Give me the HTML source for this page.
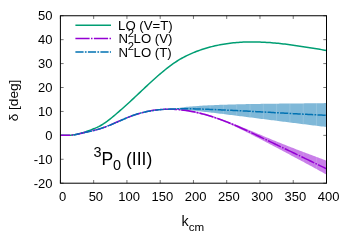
<!DOCTYPE html>
<html><head><meta charset="utf-8"><style>
html,body{margin:0;padding:0;background:#fff;}
svg{display:block;will-change:transform;}
text{font-family:"Liberation Sans",sans-serif;font-size:13px;fill:#000;}
</style></head><body>
<svg width="350" height="245" viewBox="0 0 350 245">
<rect width="350" height="245" fill="#fff"/>
<path d="M60.40,183.2 v-3.2 M60.40,15.75 v3.2 M93.66,183.2 v-3.2 M93.66,15.75 v3.2 M126.93,183.2 v-3.2 M126.93,15.75 v3.2 M160.19,183.2 v-3.2 M160.19,15.75 v3.2 M193.45,183.2 v-3.2 M193.45,15.75 v3.2 M226.71,183.2 v-3.2 M226.71,15.75 v3.2 M259.97,183.2 v-3.2 M259.97,15.75 v3.2 M293.24,183.2 v-3.2 M293.24,15.75 v3.2 M326.50,183.2 v-3.2 M326.50,15.75 v3.2 M60.4,183.20 h3.2 M326.5,183.20 h-3.2 M60.4,159.28 h3.2 M60.4,135.36 h3.2 M326.5,135.36 h-3.2 M60.4,111.44 h3.2 M60.4,87.51 h3.2 M326.5,87.51 h-3.2 M60.4,63.59 h3.2 M326.5,63.59 h-3.2 M60.4,39.67 h3.2 M326.5,39.67 h-3.2 M60.4,15.75 h3.2 M326.5,15.75 h-3.2" fill="none" stroke="#000" stroke-width="0.55"/>
<defs><clipPath id="cb"><path d="M60.40,135.19 L62.06,135.15 L63.73,135.17 L65.39,135.20 L67.05,135.23 L68.72,135.24 L70.38,135.20 L72.04,135.09 L73.70,134.90 L75.37,134.62 L77.03,134.26 L78.69,133.87 L80.36,133.48 L82.02,133.10 L83.68,132.74 L85.35,132.39 L87.01,132.04 L88.67,131.69 L90.34,131.32 L92.00,130.94 L93.66,130.53 L95.33,130.09 L96.99,129.62 L98.65,129.13 L100.31,128.61 L101.98,128.06 L103.64,127.49 L105.30,126.90 L106.97,126.29 L108.63,125.66 L110.29,125.00 L111.96,124.33 L113.62,123.63 L115.28,122.92 L116.95,122.20 L118.61,121.46 L120.27,120.72 L121.94,119.98 L123.60,119.24 L125.26,118.51 L126.93,117.80 L128.59,117.11 L130.25,116.43 L131.91,115.79 L133.58,115.18 L135.24,114.61 L136.90,114.07 L138.57,113.57 L140.23,113.11 L141.89,112.67 L143.56,112.27 L145.22,111.90 L146.88,111.56 L148.55,111.24 L150.21,110.96 L151.87,110.69 L153.53,110.45 L155.20,110.23 L156.86,110.04 L158.52,109.86 L160.19,109.70 L161.85,109.56 L163.51,109.43 L165.18,109.32 L166.84,109.22 L168.50,109.13 L170.17,109.05 L171.83,108.99 L173.49,108.93 L175.16,108.49 L176.82,108.18 L178.48,107.91 L180.15,107.66 L181.81,107.44 L183.47,107.23 L185.13,107.04 L186.80,106.87 L188.46,106.70 L190.12,106.55 L191.79,106.41 L193.45,106.27 L195.11,106.14 L196.78,106.03 L198.44,105.91 L200.10,105.81 L201.77,105.71 L203.43,105.61 L205.09,105.52 L206.76,105.44 L208.42,105.35 L210.08,105.28 L211.74,105.20 L213.41,105.13 L215.07,105.06 L216.73,104.99 L218.40,104.92 L220.06,104.86 L221.72,104.80 L223.39,104.74 L225.05,104.68 L226.71,104.63 L228.38,104.58 L230.04,104.53 L231.70,104.48 L233.37,104.43 L235.03,104.39 L236.69,104.34 L238.35,104.30 L240.02,104.26 L241.68,104.22 L243.34,104.19 L245.01,104.15 L246.67,104.12 L248.33,104.08 L250.00,104.05 L251.66,104.02 L253.32,103.99 L254.99,103.96 L256.65,103.93 L258.31,103.91 L259.97,103.88 L261.64,103.85 L263.30,103.83 L264.96,103.81 L266.63,103.78 L268.29,103.76 L269.95,103.74 L271.62,103.72 L273.28,103.70 L274.94,103.68 L276.61,103.66 L278.27,103.64 L279.93,103.62 L281.60,103.60 L283.26,103.59 L284.92,103.57 L286.59,103.55 L288.25,103.53 L289.91,103.52 L291.57,103.50 L293.24,103.48 L294.90,103.46 L296.56,103.45 L298.23,103.43 L299.89,103.41 L301.55,103.39 L303.22,103.38 L304.88,103.36 L306.54,103.34 L308.21,103.32 L309.87,103.30 L311.53,103.28 L313.20,103.26 L314.86,103.24 L316.52,103.22 L318.18,103.20 L319.85,103.18 L321.51,103.15 L323.17,103.13 L324.84,103.11 L326.50,103.08 L326.50,126.97 L324.84,126.78 L323.17,126.58 L321.51,126.38 L319.85,126.19 L318.18,125.99 L316.52,125.79 L314.86,125.59 L313.20,125.39 L311.53,125.19 L309.87,124.98 L308.21,124.78 L306.54,124.58 L304.88,124.37 L303.22,124.16 L301.55,123.96 L299.89,123.75 L298.23,123.54 L296.56,123.33 L294.90,123.12 L293.24,122.92 L291.57,122.71 L289.91,122.49 L288.25,122.28 L286.59,122.07 L284.92,121.86 L283.26,121.65 L281.60,121.44 L279.93,121.22 L278.27,121.01 L276.61,120.80 L274.94,120.59 L273.28,120.37 L271.62,120.16 L269.95,119.95 L268.29,119.73 L266.63,119.52 L264.96,119.31 L263.30,119.09 L261.64,118.88 L259.97,118.67 L258.31,118.45 L256.65,118.24 L254.99,118.03 L253.32,117.82 L251.66,117.60 L250.00,117.39 L248.33,117.18 L246.67,116.97 L245.01,116.76 L243.34,116.55 L241.68,116.34 L240.02,116.13 L238.35,115.92 L236.69,115.71 L235.03,115.51 L233.37,115.30 L231.70,115.09 L230.04,114.89 L228.38,114.68 L226.71,114.48 L225.05,114.27 L223.39,114.07 L221.72,113.87 L220.06,113.67 L218.40,113.47 L216.73,113.27 L215.07,113.07 L213.41,112.87 L211.74,112.68 L210.08,112.48 L208.42,112.29 L206.76,112.09 L205.09,111.90 L203.43,111.71 L201.77,111.52 L200.10,111.34 L198.44,111.15 L196.78,110.97 L195.11,110.80 L193.45,110.63 L191.79,110.46 L190.12,110.30 L188.46,110.14 L186.80,109.98 L185.13,109.83 L183.47,109.69 L181.81,109.55 L180.15,109.42 L178.48,109.30 L176.82,109.17 L175.16,109.06 L173.49,108.93 L171.83,108.99 L170.17,109.05 L168.50,109.13 L166.84,109.22 L165.18,109.32 L163.51,109.43 L161.85,109.56 L160.19,109.70 L158.52,109.86 L156.86,110.04 L155.20,110.23 L153.53,110.45 L151.87,110.69 L150.21,110.96 L148.55,111.24 L146.88,111.56 L145.22,111.90 L143.56,112.27 L141.89,112.67 L140.23,113.11 L138.57,113.57 L136.90,114.07 L135.24,114.61 L133.58,115.18 L131.91,115.79 L130.25,116.43 L128.59,117.11 L126.93,117.80 L125.26,118.51 L123.60,119.24 L121.94,119.98 L120.27,120.72 L118.61,121.46 L116.95,122.20 L115.28,122.92 L113.62,123.63 L111.96,124.33 L110.29,125.00 L108.63,125.66 L106.97,126.29 L105.30,126.90 L103.64,127.49 L101.98,128.06 L100.31,128.61 L98.65,129.13 L96.99,129.62 L95.33,130.09 L93.66,130.53 L92.00,130.94 L90.34,131.32 L88.67,131.69 L87.01,132.04 L85.35,132.39 L83.68,132.74 L82.02,133.10 L80.36,133.48 L78.69,133.87 L77.03,134.26 L75.37,134.62 L73.70,134.90 L72.04,135.09 L70.38,135.20 L68.72,135.24 L67.05,135.23 L65.39,135.20 L63.73,135.17 L62.06,135.15 L60.40,135.19Z"/></clipPath><clipPath id="cp"><path d="M60.40,135.14 L62.06,135.21 L63.73,135.25 L65.39,135.27 L67.05,135.26 L68.72,135.22 L70.38,135.13 L72.04,135.00 L73.70,134.82 L75.37,134.59 L77.03,134.30 L78.69,133.96 L80.36,133.57 L82.02,133.15 L83.68,132.74 L85.35,132.33 L87.01,131.95 L88.67,131.58 L90.34,131.21 L92.00,130.84 L93.66,130.46 L95.33,130.06 L96.99,129.64 L98.65,129.18 L100.31,128.69 L101.98,128.15 L103.64,127.57 L105.30,126.96 L106.97,126.32 L108.63,125.64 L110.29,124.95 L111.96,124.24 L113.62,123.52 L115.28,122.78 L116.95,122.04 L118.61,121.31 L120.27,120.57 L121.94,119.85 L123.60,119.14 L125.26,118.44 L126.93,117.77 L128.59,117.12 L130.25,116.49 L131.91,115.89 L133.58,115.31 L135.24,114.75 L136.90,114.22 L138.57,113.71 L140.23,113.22 L141.89,112.77 L143.56,112.34 L145.22,111.93 L146.88,111.56 L148.55,111.21 L150.21,110.89 L151.87,110.60 L153.53,110.34 L155.20,110.10 L156.86,109.90 L158.52,109.72 L160.19,109.57 L161.85,109.45 L163.51,109.35 L165.18,109.28 L166.84,109.24 L168.50,109.22 L170.17,109.22 L171.83,109.26 L173.49,109.21 L175.16,109.15 L176.82,109.13 L178.48,109.12 L180.15,109.14 L181.81,109.18 L183.47,109.35 L185.13,109.57 L186.80,109.81 L188.46,110.07 L190.12,110.35 L191.79,110.65 L193.45,110.97 L195.11,111.31 L196.78,111.67 L198.44,112.05 L200.10,112.45 L201.77,112.87 L203.43,113.31 L205.09,113.76 L206.76,114.23 L208.42,114.72 L210.08,115.22 L211.74,115.74 L213.41,116.28 L215.07,116.83 L216.73,117.40 L218.40,117.98 L220.06,118.57 L221.72,119.18 L223.39,119.81 L225.05,120.44 L226.71,121.09 L228.38,121.76 L230.04,122.40 L231.70,123.03 L233.37,123.66 L235.03,124.31 L236.69,124.96 L238.35,125.62 L240.02,126.29 L241.68,126.97 L243.34,127.64 L245.01,128.33 L246.67,129.02 L248.33,129.71 L250.00,130.40 L251.66,131.10 L253.32,131.80 L254.99,132.50 L256.65,133.20 L258.31,133.90 L259.97,134.60 L261.64,135.30 L263.30,136.00 L264.96,136.70 L266.63,137.39 L268.29,138.08 L269.95,138.77 L271.62,139.46 L273.28,140.14 L274.94,140.82 L276.61,141.49 L278.27,142.17 L279.93,142.84 L281.60,143.50 L283.26,144.17 L284.92,144.83 L286.59,145.49 L288.25,146.15 L289.91,146.80 L291.57,147.45 L293.24,148.10 L294.90,148.75 L296.56,149.40 L298.23,150.04 L299.89,150.68 L301.55,151.32 L303.22,151.96 L304.88,152.59 L306.54,153.23 L308.21,153.86 L309.87,154.49 L311.53,155.11 L313.20,155.74 L314.86,156.37 L316.52,156.99 L318.18,157.61 L319.85,158.23 L321.51,158.85 L323.17,159.47 L324.84,160.08 L326.50,160.70 L326.50,174.57 L324.84,173.65 L323.17,172.73 L321.51,171.81 L319.85,170.90 L318.18,169.98 L316.52,169.07 L314.86,168.16 L313.20,167.26 L311.53,166.35 L309.87,165.45 L308.21,164.55 L306.54,163.65 L304.88,162.75 L303.22,161.86 L301.55,160.96 L299.89,160.07 L298.23,159.18 L296.56,158.29 L294.90,157.40 L293.24,156.52 L291.57,155.63 L289.91,154.75 L288.25,153.87 L286.59,152.98 L284.92,152.10 L283.26,151.22 L281.60,150.34 L279.93,149.46 L278.27,148.59 L276.61,147.71 L274.94,146.83 L273.28,145.96 L271.62,145.08 L269.95,144.21 L268.29,143.33 L266.63,142.46 L264.96,141.58 L263.30,140.71 L261.64,139.84 L259.97,138.97 L258.31,138.10 L256.65,137.24 L254.99,136.38 L253.32,135.52 L251.66,134.67 L250.00,133.82 L248.33,132.98 L246.67,132.15 L245.01,131.32 L243.34,130.50 L241.68,129.69 L240.02,128.88 L238.35,128.09 L236.69,127.31 L235.03,126.53 L233.37,125.77 L231.70,125.02 L230.04,124.28 L228.38,123.55 L226.71,122.84 L225.05,122.14 L223.39,121.45 L221.72,120.78 L220.06,120.15 L218.40,119.56 L216.73,118.97 L215.07,118.41 L213.41,117.86 L211.74,117.32 L210.08,116.80 L208.42,116.30 L206.76,115.81 L205.09,115.34 L203.43,114.89 L201.77,114.45 L200.10,114.03 L198.44,113.63 L196.78,113.25 L195.11,112.89 L193.45,112.55 L191.79,112.23 L190.12,111.93 L188.46,111.65 L186.80,111.39 L185.13,111.15 L183.47,110.93 L181.81,110.71 L180.15,110.40 L178.48,110.12 L176.82,109.86 L175.16,109.63 L173.49,109.42 L171.83,109.26 L170.17,109.22 L168.50,109.22 L166.84,109.24 L165.18,109.28 L163.51,109.35 L161.85,109.45 L160.19,109.57 L158.52,109.72 L156.86,109.90 L155.20,110.10 L153.53,110.34 L151.87,110.60 L150.21,110.89 L148.55,111.21 L146.88,111.56 L145.22,111.93 L143.56,112.34 L141.89,112.77 L140.23,113.22 L138.57,113.71 L136.90,114.22 L135.24,114.75 L133.58,115.31 L131.91,115.89 L130.25,116.49 L128.59,117.12 L126.93,117.77 L125.26,118.44 L123.60,119.14 L121.94,119.85 L120.27,120.57 L118.61,121.31 L116.95,122.04 L115.28,122.78 L113.62,123.52 L111.96,124.24 L110.29,124.95 L108.63,125.64 L106.97,126.32 L105.30,126.96 L103.64,127.57 L101.98,128.15 L100.31,128.69 L98.65,129.18 L96.99,129.64 L95.33,130.06 L93.66,130.46 L92.00,130.84 L90.34,131.21 L88.67,131.58 L87.01,131.95 L85.35,132.33 L83.68,132.74 L82.02,133.15 L80.36,133.57 L78.69,133.96 L77.03,134.30 L75.37,134.59 L73.70,134.82 L72.04,135.00 L70.38,135.13 L68.72,135.22 L67.05,135.26 L65.39,135.27 L63.73,135.25 L62.06,135.21 L60.40,135.14Z"/></clipPath><clipPath id="fr"><rect x="60.4" y="15.75" width="266.10" height="167.45"/></clipPath></defs>
<g clip-path="url(#fr)">
<path d="M60.40,135.19 L62.06,135.15 L63.73,135.17 L65.39,135.20 L67.05,135.23 L68.72,135.24 L70.38,135.20 L72.04,135.09 L73.70,134.90 L75.37,134.62 L77.03,134.26 L78.69,133.87 L80.36,133.48 L82.02,133.10 L83.68,132.74 L85.35,132.39 L87.01,132.04 L88.67,131.69 L90.34,131.32 L92.00,130.94 L93.66,130.53 L95.33,130.09 L96.99,129.62 L98.65,129.13 L100.31,128.61 L101.98,128.06 L103.64,127.49 L105.30,126.90 L106.97,126.29 L108.63,125.66 L110.29,125.00 L111.96,124.33 L113.62,123.63 L115.28,122.92 L116.95,122.20 L118.61,121.46 L120.27,120.72 L121.94,119.98 L123.60,119.24 L125.26,118.51 L126.93,117.80 L128.59,117.11 L130.25,116.43 L131.91,115.79 L133.58,115.18 L135.24,114.61 L136.90,114.07 L138.57,113.57 L140.23,113.11 L141.89,112.67 L143.56,112.27 L145.22,111.90 L146.88,111.56 L148.55,111.24 L150.21,110.96 L151.87,110.69 L153.53,110.45 L155.20,110.23 L156.86,110.04 L158.52,109.86 L160.19,109.70 L161.85,109.56 L163.51,109.43 L165.18,109.32 L166.84,109.22 L168.50,109.13 L170.17,109.05 L171.83,108.99 L173.49,108.93 L175.16,108.49 L176.82,108.18 L178.48,107.91 L180.15,107.66 L181.81,107.44 L183.47,107.23 L185.13,107.04 L186.80,106.87 L188.46,106.70 L190.12,106.55 L191.79,106.41 L193.45,106.27 L195.11,106.14 L196.78,106.03 L198.44,105.91 L200.10,105.81 L201.77,105.71 L203.43,105.61 L205.09,105.52 L206.76,105.44 L208.42,105.35 L210.08,105.28 L211.74,105.20 L213.41,105.13 L215.07,105.06 L216.73,104.99 L218.40,104.92 L220.06,104.86 L221.72,104.80 L223.39,104.74 L225.05,104.68 L226.71,104.63 L228.38,104.58 L230.04,104.53 L231.70,104.48 L233.37,104.43 L235.03,104.39 L236.69,104.34 L238.35,104.30 L240.02,104.26 L241.68,104.22 L243.34,104.19 L245.01,104.15 L246.67,104.12 L248.33,104.08 L250.00,104.05 L251.66,104.02 L253.32,103.99 L254.99,103.96 L256.65,103.93 L258.31,103.91 L259.97,103.88 L261.64,103.85 L263.30,103.83 L264.96,103.81 L266.63,103.78 L268.29,103.76 L269.95,103.74 L271.62,103.72 L273.28,103.70 L274.94,103.68 L276.61,103.66 L278.27,103.64 L279.93,103.62 L281.60,103.60 L283.26,103.59 L284.92,103.57 L286.59,103.55 L288.25,103.53 L289.91,103.52 L291.57,103.50 L293.24,103.48 L294.90,103.46 L296.56,103.45 L298.23,103.43 L299.89,103.41 L301.55,103.39 L303.22,103.38 L304.88,103.36 L306.54,103.34 L308.21,103.32 L309.87,103.30 L311.53,103.28 L313.20,103.26 L314.86,103.24 L316.52,103.22 L318.18,103.20 L319.85,103.18 L321.51,103.15 L323.17,103.13 L324.84,103.11 L326.50,103.08 L326.50,126.97 L324.84,126.78 L323.17,126.58 L321.51,126.38 L319.85,126.19 L318.18,125.99 L316.52,125.79 L314.86,125.59 L313.20,125.39 L311.53,125.19 L309.87,124.98 L308.21,124.78 L306.54,124.58 L304.88,124.37 L303.22,124.16 L301.55,123.96 L299.89,123.75 L298.23,123.54 L296.56,123.33 L294.90,123.12 L293.24,122.92 L291.57,122.71 L289.91,122.49 L288.25,122.28 L286.59,122.07 L284.92,121.86 L283.26,121.65 L281.60,121.44 L279.93,121.22 L278.27,121.01 L276.61,120.80 L274.94,120.59 L273.28,120.37 L271.62,120.16 L269.95,119.95 L268.29,119.73 L266.63,119.52 L264.96,119.31 L263.30,119.09 L261.64,118.88 L259.97,118.67 L258.31,118.45 L256.65,118.24 L254.99,118.03 L253.32,117.82 L251.66,117.60 L250.00,117.39 L248.33,117.18 L246.67,116.97 L245.01,116.76 L243.34,116.55 L241.68,116.34 L240.02,116.13 L238.35,115.92 L236.69,115.71 L235.03,115.51 L233.37,115.30 L231.70,115.09 L230.04,114.89 L228.38,114.68 L226.71,114.48 L225.05,114.27 L223.39,114.07 L221.72,113.87 L220.06,113.67 L218.40,113.47 L216.73,113.27 L215.07,113.07 L213.41,112.87 L211.74,112.68 L210.08,112.48 L208.42,112.29 L206.76,112.09 L205.09,111.90 L203.43,111.71 L201.77,111.52 L200.10,111.34 L198.44,111.15 L196.78,110.97 L195.11,110.80 L193.45,110.63 L191.79,110.46 L190.12,110.30 L188.46,110.14 L186.80,109.98 L185.13,109.83 L183.47,109.69 L181.81,109.55 L180.15,109.42 L178.48,109.30 L176.82,109.17 L175.16,109.06 L173.49,108.93 L171.83,108.99 L170.17,109.05 L168.50,109.13 L166.84,109.22 L165.18,109.32 L163.51,109.43 L161.85,109.56 L160.19,109.70 L158.52,109.86 L156.86,110.04 L155.20,110.23 L153.53,110.45 L151.87,110.69 L150.21,110.96 L148.55,111.24 L146.88,111.56 L145.22,111.90 L143.56,112.27 L141.89,112.67 L140.23,113.11 L138.57,113.57 L136.90,114.07 L135.24,114.61 L133.58,115.18 L131.91,115.79 L130.25,116.43 L128.59,117.11 L126.93,117.80 L125.26,118.51 L123.60,119.24 L121.94,119.98 L120.27,120.72 L118.61,121.46 L116.95,122.20 L115.28,122.92 L113.62,123.63 L111.96,124.33 L110.29,125.00 L108.63,125.66 L106.97,126.29 L105.30,126.90 L103.64,127.49 L101.98,128.06 L100.31,128.61 L98.65,129.13 L96.99,129.62 L95.33,130.09 L93.66,130.53 L92.00,130.94 L90.34,131.32 L88.67,131.69 L87.01,132.04 L85.35,132.39 L83.68,132.74 L82.02,133.10 L80.36,133.48 L78.69,133.87 L77.03,134.26 L75.37,134.62 L73.70,134.90 L72.04,135.09 L70.38,135.20 L68.72,135.24 L67.05,135.23 L65.39,135.20 L63.73,135.17 L62.06,135.15 L60.40,135.19Z" fill="#0072b2" fill-opacity="0.5"/>
<path d="M183.47,15.75 V183.2 M196.78,15.75 V183.2 M210.08,15.75 V183.2 M223.39,15.75 V183.2 M236.69,15.75 V183.2 M250.00,15.75 V183.2 M263.30,15.75 V183.2 M276.61,15.75 V183.2 M289.91,15.75 V183.2 M303.22,15.75 V183.2 M316.52,15.75 V183.2" clip-path="url(#cb)" stroke="#fff" stroke-opacity="0.22" stroke-width="0.7" fill="none"/>
<path d="M60.40,135.14 L62.06,135.21 L63.73,135.25 L65.39,135.27 L67.05,135.26 L68.72,135.22 L70.38,135.13 L72.04,135.00 L73.70,134.82 L75.37,134.59 L77.03,134.30 L78.69,133.96 L80.36,133.57 L82.02,133.15 L83.68,132.74 L85.35,132.33 L87.01,131.95 L88.67,131.58 L90.34,131.21 L92.00,130.84 L93.66,130.46 L95.33,130.06 L96.99,129.64 L98.65,129.18 L100.31,128.69 L101.98,128.15 L103.64,127.57 L105.30,126.96 L106.97,126.32 L108.63,125.64 L110.29,124.95 L111.96,124.24 L113.62,123.52 L115.28,122.78 L116.95,122.04 L118.61,121.31 L120.27,120.57 L121.94,119.85 L123.60,119.14 L125.26,118.44 L126.93,117.77 L128.59,117.12 L130.25,116.49 L131.91,115.89 L133.58,115.31 L135.24,114.75 L136.90,114.22 L138.57,113.71 L140.23,113.22 L141.89,112.77 L143.56,112.34 L145.22,111.93 L146.88,111.56 L148.55,111.21 L150.21,110.89 L151.87,110.60 L153.53,110.34 L155.20,110.10 L156.86,109.90 L158.52,109.72 L160.19,109.57 L161.85,109.45 L163.51,109.35 L165.18,109.28 L166.84,109.24 L168.50,109.22 L170.17,109.22 L171.83,109.26 L173.49,109.21 L175.16,109.15 L176.82,109.13 L178.48,109.12 L180.15,109.14 L181.81,109.18 L183.47,109.35 L185.13,109.57 L186.80,109.81 L188.46,110.07 L190.12,110.35 L191.79,110.65 L193.45,110.97 L195.11,111.31 L196.78,111.67 L198.44,112.05 L200.10,112.45 L201.77,112.87 L203.43,113.31 L205.09,113.76 L206.76,114.23 L208.42,114.72 L210.08,115.22 L211.74,115.74 L213.41,116.28 L215.07,116.83 L216.73,117.40 L218.40,117.98 L220.06,118.57 L221.72,119.18 L223.39,119.81 L225.05,120.44 L226.71,121.09 L228.38,121.76 L230.04,122.40 L231.70,123.03 L233.37,123.66 L235.03,124.31 L236.69,124.96 L238.35,125.62 L240.02,126.29 L241.68,126.97 L243.34,127.64 L245.01,128.33 L246.67,129.02 L248.33,129.71 L250.00,130.40 L251.66,131.10 L253.32,131.80 L254.99,132.50 L256.65,133.20 L258.31,133.90 L259.97,134.60 L261.64,135.30 L263.30,136.00 L264.96,136.70 L266.63,137.39 L268.29,138.08 L269.95,138.77 L271.62,139.46 L273.28,140.14 L274.94,140.82 L276.61,141.49 L278.27,142.17 L279.93,142.84 L281.60,143.50 L283.26,144.17 L284.92,144.83 L286.59,145.49 L288.25,146.15 L289.91,146.80 L291.57,147.45 L293.24,148.10 L294.90,148.75 L296.56,149.40 L298.23,150.04 L299.89,150.68 L301.55,151.32 L303.22,151.96 L304.88,152.59 L306.54,153.23 L308.21,153.86 L309.87,154.49 L311.53,155.11 L313.20,155.74 L314.86,156.37 L316.52,156.99 L318.18,157.61 L319.85,158.23 L321.51,158.85 L323.17,159.47 L324.84,160.08 L326.50,160.70 L326.50,174.57 L324.84,173.65 L323.17,172.73 L321.51,171.81 L319.85,170.90 L318.18,169.98 L316.52,169.07 L314.86,168.16 L313.20,167.26 L311.53,166.35 L309.87,165.45 L308.21,164.55 L306.54,163.65 L304.88,162.75 L303.22,161.86 L301.55,160.96 L299.89,160.07 L298.23,159.18 L296.56,158.29 L294.90,157.40 L293.24,156.52 L291.57,155.63 L289.91,154.75 L288.25,153.87 L286.59,152.98 L284.92,152.10 L283.26,151.22 L281.60,150.34 L279.93,149.46 L278.27,148.59 L276.61,147.71 L274.94,146.83 L273.28,145.96 L271.62,145.08 L269.95,144.21 L268.29,143.33 L266.63,142.46 L264.96,141.58 L263.30,140.71 L261.64,139.84 L259.97,138.97 L258.31,138.10 L256.65,137.24 L254.99,136.38 L253.32,135.52 L251.66,134.67 L250.00,133.82 L248.33,132.98 L246.67,132.15 L245.01,131.32 L243.34,130.50 L241.68,129.69 L240.02,128.88 L238.35,128.09 L236.69,127.31 L235.03,126.53 L233.37,125.77 L231.70,125.02 L230.04,124.28 L228.38,123.55 L226.71,122.84 L225.05,122.14 L223.39,121.45 L221.72,120.78 L220.06,120.15 L218.40,119.56 L216.73,118.97 L215.07,118.41 L213.41,117.86 L211.74,117.32 L210.08,116.80 L208.42,116.30 L206.76,115.81 L205.09,115.34 L203.43,114.89 L201.77,114.45 L200.10,114.03 L198.44,113.63 L196.78,113.25 L195.11,112.89 L193.45,112.55 L191.79,112.23 L190.12,111.93 L188.46,111.65 L186.80,111.39 L185.13,111.15 L183.47,110.93 L181.81,110.71 L180.15,110.40 L178.48,110.12 L176.82,109.86 L175.16,109.63 L173.49,109.42 L171.83,109.26 L170.17,109.22 L168.50,109.22 L166.84,109.24 L165.18,109.28 L163.51,109.35 L161.85,109.45 L160.19,109.57 L158.52,109.72 L156.86,109.90 L155.20,110.10 L153.53,110.34 L151.87,110.60 L150.21,110.89 L148.55,111.21 L146.88,111.56 L145.22,111.93 L143.56,112.34 L141.89,112.77 L140.23,113.22 L138.57,113.71 L136.90,114.22 L135.24,114.75 L133.58,115.31 L131.91,115.89 L130.25,116.49 L128.59,117.12 L126.93,117.77 L125.26,118.44 L123.60,119.14 L121.94,119.85 L120.27,120.57 L118.61,121.31 L116.95,122.04 L115.28,122.78 L113.62,123.52 L111.96,124.24 L110.29,124.95 L108.63,125.64 L106.97,126.32 L105.30,126.96 L103.64,127.57 L101.98,128.15 L100.31,128.69 L98.65,129.18 L96.99,129.64 L95.33,130.06 L93.66,130.46 L92.00,130.84 L90.34,131.21 L88.67,131.58 L87.01,131.95 L85.35,132.33 L83.68,132.74 L82.02,133.15 L80.36,133.57 L78.69,133.96 L77.03,134.30 L75.37,134.59 L73.70,134.82 L72.04,135.00 L70.38,135.13 L68.72,135.22 L67.05,135.26 L65.39,135.27 L63.73,135.25 L62.06,135.21 L60.40,135.14Z" fill="#9400d3" fill-opacity="0.5"/>
<path d="M183.47,15.75 V183.2 M196.78,15.75 V183.2 M210.08,15.75 V183.2 M223.39,15.75 V183.2 M236.69,15.75 V183.2 M250.00,15.75 V183.2 M263.30,15.75 V183.2 M276.61,15.75 V183.2 M289.91,15.75 V183.2 M303.22,15.75 V183.2 M316.52,15.75 V183.2" clip-path="url(#cp)" stroke="#fff" stroke-opacity="0.18" stroke-width="0.7" fill="none"/>
<path d="M60.40,135.14 L62.06,135.18 L63.73,135.23 L65.39,135.27 L67.05,135.29 L68.72,135.27 L70.38,135.19 L72.04,135.04 L73.70,134.82 L75.37,134.55 L77.03,134.21 L78.69,133.83 L80.36,133.39 L82.02,132.92 L83.68,132.41 L85.35,131.87 L87.01,131.29 L88.67,130.69 L90.34,130.08 L92.00,129.44 L93.66,128.79 L95.33,128.12 L96.99,127.40 L98.65,126.61 L100.31,125.74 L101.98,124.77 L103.64,123.71 L105.30,122.58 L106.97,121.39 L108.63,120.13 L110.29,118.83 L111.96,117.49 L113.62,116.11 L115.28,114.71 L116.95,113.30 L118.61,111.87 L120.27,110.43 L121.94,108.96 L123.60,107.49 L125.26,106.00 L126.93,104.49 L128.59,102.98 L130.25,101.45 L131.91,99.91 L133.58,98.36 L135.24,96.80 L136.90,95.23 L138.57,93.66 L140.23,92.09 L141.89,90.52 L143.56,88.96 L145.22,87.39 L146.88,85.84 L148.55,84.29 L150.21,82.75 L151.87,81.23 L153.53,79.71 L155.20,78.22 L156.86,76.74 L158.52,75.29 L160.19,73.86 L161.85,72.45 L163.51,71.07 L165.18,69.72 L166.84,68.39 L168.50,67.11 L170.17,65.86 L171.83,64.64 L173.49,63.47 L175.16,62.34 L176.82,61.25 L178.48,60.21 L180.15,59.21 L181.81,58.26 L183.47,57.35 L185.13,56.47 L186.80,55.64 L188.46,54.84 L190.12,54.07 L191.79,53.34 L193.45,52.64 L195.11,51.97 L196.78,51.32 L198.44,50.71 L200.10,50.12 L201.77,49.55 L203.43,49.01 L205.09,48.49 L206.76,47.99 L208.42,47.52 L210.08,47.06 L211.74,46.63 L213.41,46.22 L215.07,45.83 L216.73,45.46 L218.40,45.12 L220.06,44.79 L221.72,44.48 L223.39,44.19 L225.05,43.92 L226.71,43.67 L228.38,43.44 L230.04,43.22 L231.70,43.02 L233.37,42.85 L235.03,42.68 L236.69,42.54 L238.35,42.41 L240.02,42.29 L241.68,42.20 L243.34,42.11 L245.01,42.05 L246.67,41.99 L248.33,41.96 L250.00,41.93 L251.66,41.92 L253.32,41.93 L254.99,41.94 L256.65,41.97 L258.31,42.01 L259.97,42.07 L261.64,42.13 L263.30,42.21 L264.96,42.30 L266.63,42.40 L268.29,42.50 L269.95,42.62 L271.62,42.75 L273.28,42.89 L274.94,43.04 L276.61,43.20 L278.27,43.36 L279.93,43.54 L281.60,43.72 L283.26,43.91 L284.92,44.11 L286.59,44.31 L288.25,44.52 L289.91,44.74 L291.57,44.96 L293.24,45.19 L294.90,45.42 L296.56,45.66 L298.23,45.90 L299.89,46.15 L301.55,46.40 L303.22,46.66 L304.88,46.92 L306.54,47.18 L308.21,47.44 L309.87,47.71 L311.53,47.98 L313.20,48.25 L314.86,48.52 L316.52,48.79 L318.18,49.07 L319.85,49.34 L321.51,49.62 L323.17,49.89 L324.84,50.17 L326.50,50.44" fill="none" stroke="#009e73" stroke-width="1.5"/>
<path d="M60.40,135.14 L62.06,135.21 L63.73,135.25 L65.39,135.27 L67.05,135.26 L68.72,135.22 L70.38,135.13 L72.04,135.00 L73.70,134.82 L75.37,134.59 L77.03,134.30 L78.69,133.96 L80.36,133.57 L82.02,133.15 L83.68,132.74 L85.35,132.33 L87.01,131.95 L88.67,131.58 L90.34,131.21 L92.00,130.84 L93.66,130.46 L95.33,130.06 L96.99,129.64 L98.65,129.18 L100.31,128.69 L101.98,128.15 L103.64,127.57 L105.30,126.96 L106.97,126.32 L108.63,125.64 L110.29,124.95 L111.96,124.24 L113.62,123.52 L115.28,122.78 L116.95,122.04 L118.61,121.31 L120.27,120.57 L121.94,119.85 L123.60,119.14 L125.26,118.44 L126.93,117.77 L128.59,117.12 L130.25,116.49 L131.91,115.89 L133.58,115.31 L135.24,114.75 L136.90,114.22 L138.57,113.71 L140.23,113.22 L141.89,112.77 L143.56,112.34 L145.22,111.93 L146.88,111.56 L148.55,111.21 L150.21,110.89 L151.87,110.60 L153.53,110.34 L155.20,110.10 L156.86,109.90 L158.52,109.72 L160.19,109.57 L161.85,109.45 L163.51,109.35 L165.18,109.28 L166.84,109.24 L168.50,109.22 L170.17,109.22 L171.83,109.26 L173.49,109.31 L175.16,109.39 L176.82,109.49 L178.48,109.62 L180.15,109.77 L181.81,109.95 L183.47,110.14 L185.13,110.36 L186.80,110.60 L188.46,110.86 L190.12,111.14 L191.79,111.44 L193.45,111.76 L195.11,112.10 L196.78,112.46 L198.44,112.84 L200.10,113.24 L201.77,113.66 L203.43,114.10 L205.09,114.55 L206.76,115.02 L208.42,115.51 L210.08,116.01 L211.74,116.53 L213.41,117.07 L215.07,117.62 L216.73,118.18 L218.40,118.77 L220.06,119.36 L221.72,119.97 L223.39,120.60 L225.05,121.23 L226.71,121.88 L228.38,122.55 L230.04,123.22 L231.70,123.91 L233.37,124.60 L235.03,125.31 L236.69,126.03 L238.35,126.75 L240.02,127.49 L241.68,128.23 L243.34,128.98 L245.01,129.74 L246.67,130.51 L248.33,131.28 L250.00,132.05 L251.66,132.83 L253.32,133.62 L254.99,134.41 L256.65,135.20 L258.31,136.00 L259.97,136.79 L261.64,137.59 L263.30,138.39 L264.96,139.19 L266.63,139.99 L268.29,140.79 L269.95,141.59 L271.62,142.38 L273.28,143.18 L274.94,143.98 L276.61,144.77 L278.27,145.57 L279.93,146.37 L281.60,147.16 L283.26,147.96 L284.92,148.75 L286.59,149.55 L288.25,150.34 L289.91,151.14 L291.57,151.94 L293.24,152.73 L294.90,153.53 L296.56,154.33 L298.23,155.12 L299.89,155.92 L301.55,156.72 L303.22,157.52 L304.88,158.32 L306.54,159.12 L308.21,159.93 L309.87,160.73 L311.53,161.53 L313.20,162.34 L314.86,163.15 L316.52,163.95 L318.18,164.76 L319.85,165.57 L321.51,166.38 L323.17,167.20 L324.84,168.01 L326.50,168.83" fill="none" stroke="#9400d3" stroke-width="1.5" stroke-dasharray="14.2,1.4,1.5,1.4" stroke-dashoffset="4.5"/>
<path d="M73.70,134.90 L75.37,134.62 L77.03,134.26 L78.69,133.87 L80.36,133.48 L82.02,133.10 L83.68,132.74 L85.35,132.39 L87.01,132.04 L88.67,131.69 L90.34,131.32 L92.00,130.94 L93.66,130.53 L95.33,130.09 L96.99,129.62 L98.65,129.13 L100.31,128.61 L101.98,128.06 L103.64,127.49 L105.30,126.90 L106.97,126.29 L108.63,125.66 L110.29,125.00 L111.96,124.33 L113.62,123.63 L115.28,122.92 L116.95,122.20 L118.61,121.46 L120.27,120.72 L121.94,119.98 L123.60,119.24 L125.26,118.51 L126.93,117.80 L128.59,117.11 L130.25,116.43 L131.91,115.79 L133.58,115.18 L135.24,114.61 L136.90,114.07 L138.57,113.57 L140.23,113.11 L141.89,112.67 L143.56,112.27 L145.22,111.90 L146.88,111.56 L148.55,111.24 L150.21,110.96 L151.87,110.69 L153.53,110.45 L155.20,110.23 L156.86,110.04 L158.52,109.86 L160.19,109.70 L161.85,109.56 L163.51,109.43 L165.18,109.32 L166.84,109.22 L168.50,109.13 L170.17,109.05 L171.83,108.99 L173.49,108.93 L175.16,108.88 L176.82,108.84 L178.48,108.81 L180.15,108.79 L181.81,108.78 L183.47,108.77 L185.13,108.77 L186.80,108.78 L188.46,108.80 L190.12,108.82 L191.79,108.84 L193.45,108.87 L195.11,108.91 L196.78,108.95 L198.44,109.00 L200.10,109.05 L201.77,109.10 L203.43,109.16 L205.09,109.21 L206.76,109.27 L208.42,109.34 L210.08,109.40 L211.74,109.47 L213.41,109.54 L215.07,109.60 L216.73,109.67 L218.40,109.74 L220.06,109.82 L221.72,109.89 L223.39,109.96 L225.05,110.04 L226.71,110.12 L228.38,110.19 L230.04,110.27 L231.70,110.35 L233.37,110.43 L235.03,110.51 L236.69,110.59 L238.35,110.68 L240.02,110.76 L241.68,110.85 L243.34,110.93 L245.01,111.02 L246.67,111.10 L248.33,111.19 L250.00,111.28 L251.66,111.37 L253.32,111.45 L254.99,111.54 L256.65,111.63 L258.31,111.72 L259.97,111.81 L261.64,111.90 L263.30,111.99 L264.96,112.09 L266.63,112.18 L268.29,112.27 L269.95,112.36 L271.62,112.45 L273.28,112.54 L274.94,112.64 L276.61,112.73 L278.27,112.82 L279.93,112.91 L281.60,113.00 L283.26,113.10 L284.92,113.19 L286.59,113.28 L288.25,113.37 L289.91,113.46 L291.57,113.55 L293.24,113.64 L294.90,113.73 L296.56,113.82 L298.23,113.91 L299.89,114.00 L301.55,114.09 L303.22,114.17 L304.88,114.26 L306.54,114.35 L308.21,114.43 L309.87,114.52 L311.53,114.60 L313.20,114.68 L314.86,114.77 L316.52,114.85 L318.18,114.93 L319.85,115.01 L321.51,115.09 L323.17,115.17 L324.84,115.24 L326.50,115.32" fill="none" stroke="#0072b2" stroke-width="1.5" stroke-dasharray="8.2,1.3,1.7,1.3" stroke-dashoffset="2"/>
</g>
<rect x="60.4" y="15.75" width="266.10" height="167.45" fill="none" stroke="#000" stroke-width="1"/>
<text x="62.60" y="201.3" text-anchor="middle">0</text>
<text x="95.86" y="201.3" text-anchor="middle">50</text>
<text x="129.12" y="201.3" text-anchor="middle">100</text>
<text x="162.39" y="201.3" text-anchor="middle">150</text>
<text x="195.65" y="201.3" text-anchor="middle">200</text>
<text x="228.91" y="201.3" text-anchor="middle">250</text>
<text x="262.17" y="201.3" text-anchor="middle">300</text>
<text x="295.44" y="201.3" text-anchor="middle">350</text>
<text x="328.70" y="201.3" text-anchor="middle">400</text>
<text x="52.5" y="187.80" text-anchor="end">-20</text>
<text x="52.5" y="163.88" text-anchor="end">-10</text>
<text x="52.5" y="139.96" text-anchor="end">0</text>
<text x="52.5" y="116.04" text-anchor="end">10</text>
<text x="52.5" y="92.11" text-anchor="end">20</text>
<text x="52.5" y="68.19" text-anchor="end">30</text>
<text x="52.5" y="44.27" text-anchor="end">40</text>
<text x="52.5" y="20.35" text-anchor="end">50</text>
<path d="M75.4,25.30 H111" stroke="#009e73" stroke-width="1.5" fill="none"/>
<path d="M75.4,38.60 H111" stroke="#9400d3" stroke-width="1.5" fill="none" stroke-dasharray="14.2,1.4,1.5,1.4"/>
<path d="M75.4,51.90 H111" stroke="#0072b2" stroke-width="1.5" fill="none" stroke-dasharray="8.2,1.3,1.7,1.3"/>
<text x="118.1" y="29.7" style="font-size:13.2px">LO (V=T)</text>
<text x="118.4" y="43.4" style="font-size:13.2px">N<tspan dy="-6.9" dx="-0.3" style="font-size:11.2px">2</tspan><tspan dy="6.9" dx="-0.3">LO (V)</tspan></text>
<text x="118.4" y="57.2" style="font-size:13.2px">N<tspan dy="-6.9" dx="-0.3" style="font-size:11.2px">2</tspan><tspan dy="6.9" dx="-0.3">LO (T)</tspan></text>
<text transform="translate(18.1,100.5) rotate(-90)" text-anchor="middle" style="font-size:13.6px">δ [deg]</text>
<text x="181.6" y="225.8" style="font-size:14.3px">k<tspan dy="4.8" style="font-size:11.6px">cm</tspan></text>
<text x="93.4" y="164.8" style="font-size:17.5px"><tspan dy="-8.3" style="font-size:14.4px">3</tspan><tspan dy="8.3">P</tspan><tspan dy="5.0" style="font-size:14.4px">0</tspan><tspan dy="-5.0"> (III)</tspan></text>
</svg>
</body></html>
